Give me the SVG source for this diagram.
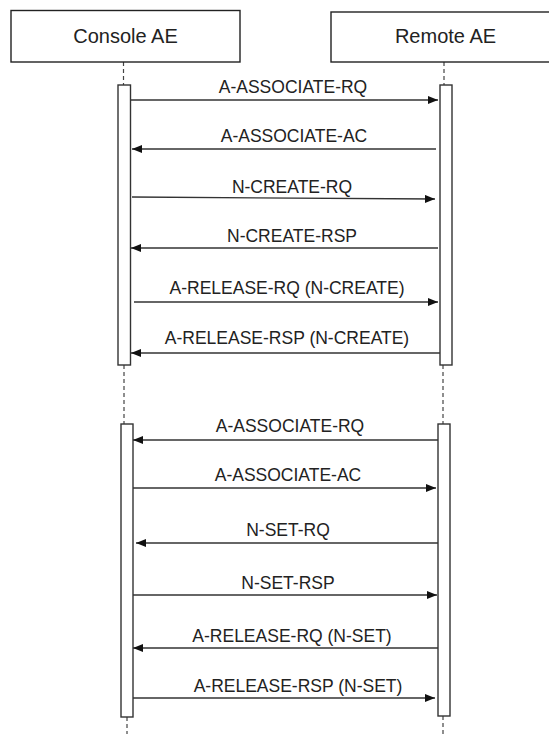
<svg xmlns="http://www.w3.org/2000/svg" width="549" height="734" viewBox="0 0 549 734">
<defs>
<marker id="ah" viewBox="0 0 10 8" refX="10" refY="4" markerWidth="10" markerHeight="8" markerUnits="userSpaceOnUse" orient="auto">
<path d="M0,0 L10,4 L0,8 Z" fill="#111"/>
</marker>
<style>
.box{fill:#fff;stroke:#222;stroke-width:1.4}
.bar{fill:#fff;stroke:#333;stroke-width:1.4}
.life{stroke:#444;stroke-width:1.2;stroke-dasharray:4 3;fill:none}
.msg{stroke:#333;stroke-width:1.3;fill:none;marker-end:url(#ah)}
.ttl{font-family:"Liberation Sans",Arial,sans-serif;font-size:20px;fill:#222;text-anchor:middle}
.lbl{font-family:"Liberation Sans",Arial,sans-serif;font-size:17.5px;fill:#222;text-anchor:middle}
</style>
</defs>
<rect width="549" height="734" fill="#fff"/>
<g id="lifelines">
<line class="life" x1="123.5" y1="62" x2="123.5" y2="85"/>
<line class="life" x1="444" y1="62" x2="444" y2="85"/>
<line class="life" x1="124" y1="365" x2="124" y2="424"/>
<line class="life" x1="443" y1="365" x2="443" y2="424"/>
<line class="life" x1="127" y1="717" x2="127" y2="734"/>
<line class="life" x1="443" y1="716" x2="443" y2="734"/>
</g>
<g id="console-ae">
<rect class="box" x="11" y="10.5" width="229" height="51.5"/>
<text class="ttl" x="125.5" y="43">Console AE</text>
</g>
<g id="remote-ae">
<rect class="box" x="331" y="12" width="229" height="50"/>
<text class="ttl" x="445.5" y="43">Remote AE</text>
</g>
<g id="console-activation-1"><rect class="bar" x="118" y="85" width="12.5" height="280"/></g>
<g id="remote-activation-1"><rect class="bar" x="440" y="85" width="12" height="280"/></g>
<g id="console-activation-2"><rect class="bar" x="121" y="424" width="12" height="293"/></g>
<g id="remote-activation-2"><rect class="bar" x="438" y="424" width="12" height="292"/></g>
<g id="connectors">
<line class="msg" x1="131" y1="100" x2="438" y2="100"/>
<line class="msg" x1="436" y1="149" x2="132" y2="149"/>
<line class="msg" x1="132" y1="197" x2="435" y2="199"/>
<line class="msg" x1="438" y1="248" x2="131" y2="248"/>
<line class="msg" x1="134" y1="302" x2="438" y2="302"/>
<line class="msg" x1="440" y1="353" x2="131" y2="353"/>
<line class="msg" x1="438" y1="440" x2="133" y2="440"/>
<line class="msg" x1="133" y1="488" x2="436" y2="488"/>
<line class="msg" x1="438" y1="543" x2="136" y2="543"/>
<line class="msg" x1="133" y1="595" x2="437" y2="595"/>
<line class="msg" x1="438" y1="648" x2="133" y2="648"/>
<line class="msg" x1="133" y1="698" x2="435" y2="698"/>
</g>
<g id="labels">
<text class="lbl" x="293" y="93">A-ASSOCIATE-RQ</text>
<text class="lbl" x="294" y="142">A-ASSOCIATE-AC</text>
<text class="lbl" x="292" y="193">N-CREATE-RQ</text>
<text class="lbl" x="292" y="242">N-CREATE-RSP</text>
<text class="lbl" x="287" y="294">A-RELEASE-RQ (N-CREATE)</text>
<text class="lbl" x="287" y="344">A-RELEASE-RSP (N-CREATE)</text>
<text class="lbl" x="290" y="432">A-ASSOCIATE-RQ</text>
<text class="lbl" x="288" y="481">A-ASSOCIATE-AC</text>
<text class="lbl" x="288" y="536">N-SET-RQ</text>
<text class="lbl" x="288" y="589">N-SET-RSP</text>
<text class="lbl" x="292" y="642">A-RELEASE-RQ (N-SET)</text>
<text class="lbl" x="298" y="692">A-RELEASE-RSP (N-SET)</text>
</g>
</svg>
